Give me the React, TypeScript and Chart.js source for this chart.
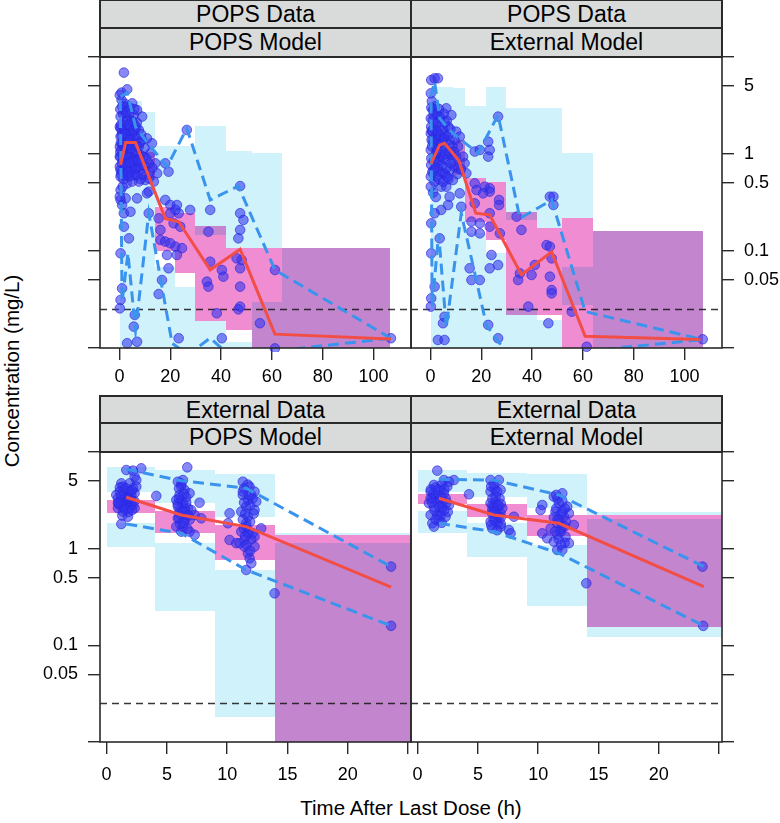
import React, { useEffect, useRef } from 'react';
import { Chart, registerables } from 'chart.js';

Chart.register(...registerables);

const FONT = '"Liberation Sans", Arial, Helvetica, sans-serif';

// ---------- axis ticks ----------
const X_TICKS_TOP = [0, 20, 40, 60, 80, 100];
const X_LABELS_TOP = ['0', '20', '40', '60', '80', '100'];
const X_TICKS_BOTTOM = [0, 5, 10, 15, 20, 25];
const X_LABELS_BOTTOM = ['0', '5', '10', '15', '20', ''];
const Y_TICKS = [0.01, 0.05, 0.1, 0.5, 1, 5, 10];
const Y_LABELS = ['', '0.05', '0.1', '0.5', '1', '5', ''];
const X_LIMITS_TOP = [-7.7, 114.8];
const X_LIMITS_BOTTOM = [-0.55, 25.25];
const Y_LIMITS = [0.01, 10];
const LLOQ = 0.025;

const STRIP_DATA = ['POPS Data', 'POPS Data', 'External Data', 'External Data'];
const STRIP_MODEL = ['POPS Model', 'External Model', 'POPS Model', 'External Model'];
const X_TITLE = 'Time After Last Dose (h)';
const Y_TITLE = 'Concentration (mg/L)';

// ---------- POPS data / POPS model ----------
const TL_POINTS = [
  [1.7, 6.9], [0.8, 4.29], [3.0, 4.64], [0.1, 4.06],
  [5.0, 3.33], [6.9, 2.84], [8.9, 2.43], [3.7, 2.52], [0.4, 2.43], [0.1, 1.91], [2.1, 1.99], [5.6, 2.07], [7.6, 1.77],
  [0.4, 1.51], [3.0, 1.63], [6.3, 1.51], [0.1, 1.19], [3.7, 1.19], [7.6, 1.19], [0.4, 0.939], [4.3, 0.939], [8.2, 0.977],
  [0.1, 0.74], [2.4, 0.74], [5.6, 0.77], [0.4, 0.584], [3.7, 0.584], [7.6, 0.519], [10.2, 0.539], [11.5, 0.561],
  [10.8, 1.45], [12.8, 1.29], [12.2, 1.02], [14.1, 0.801], [11.5, 0.801], [14.8, 0.632], [18.0, 0.801], [19.3, 0.657],
  [11.5, 0.409], [10.8, 0.393], [6.9, 0.349], [0.4, 0.425], [2.4, 0.349], [0.4, 0.336], [1.7, 0.245], [4.3, 0.254],
  [11.5, 0.245], [18.0, 0.336], [20.0, 0.298], [22.6, 0.298], [23.3, 0.245], [22.0, 0.265], [27.8, 0.265], [20.0, 0.245],
  [15.4, 0.217], [16.1, 0.165], [21.3, 0.193], [23.9, 0.178], [1.7, 0.178], [3.7, 0.135], [0.4, 0.0946], [1.0, 0.0412],
  [0.4, 0.0313], [0.1, 0.0256], [6.0, 0.0219], [5.6, 0.0166], [3.0, 0.0112], [6.9, 0.0116], [23.3, 0.0126], [16.1, 0.13],
  [18.0, 0.125], [22.0, 0.111], [20.0, 0.12], [24.6, 0.107], [18.7, 0.091], [22.6, 0.091], [19.3, 0.0663], [16.7, 0.0502],
  [15.4, 0.036], [26.5, 1.77],
  [35.7, 0.265], [35.7, 0.0776], [35.0, 0.158], [34.4, 0.0483], [35.0, 0.0429], [40.3, 0.0637], [40.9, 0.0544], [38.3, 0.0228],
  [47.5, 0.467], [47.5, 0.245], [48.8, 0.209], [47.5, 0.165], [46.8, 0.135], [48.1, 0.0808], [46.1, 0.084], [47.5, 0.0663],
  [47.5, 0.0429], [47.5, 0.0267], [46.8, 0.025], [55.3, 0.018], [61.2, 0.0637], [61.2, 0.0099], [106.9, 0.0126], [40.3, 0.0126],
  [1.7, 2.84], [3.0, 2.33], [4.3, 1.91], [1.0, 1.7], [5.0, 1.39], [2.4, 1.34], [6.3, 1.06], [1.7, 1.06], [3.7, 0.834],
  [6.9, 0.867], [1.0, 0.657], [5.0, 0.657], [3.0, 0.498], [6.3, 0.607], [0.1, 0.939], [7.6, 0.74], [8.9, 1.39], [5.6, 2.52],
  [1.0, 1.29], [3.7, 1.63], [1.0, 0.298], [0.1, 0.363], [2.4, 3.08], [0.4, 1.84], [4.3, 1.24], [2.4, 0.977], [6.3, 0.801],
  [0.4, 0.684], [5.0, 0.519], [8.2, 0.684], [9.5, 0.939], [10.2, 0.74],
  [0.8, 3.6], [2.0, 3.3], [4.0, 3.0], [5.8, 2.9], [1.3, 2.6], [2.8, 2.2], [4.8, 2.2], [6.8, 2.1], [0.6, 2.0], [1.9, 1.75],
  [3.3, 1.45], [4.6, 1.6], [6.0, 1.8], [7.2, 1.45], [0.7, 1.1], [2.0, 1.15], [3.2, 1.0], [4.9, 1.05], [5.8, 0.9], [7.0, 1.0],
  [1.3, 0.85], [2.7, 0.85], [4.4, 0.72], [6.6, 0.72], [1.5, 0.55], [2.8, 0.62], [8.0, 0.9], [8.5, 1.6], [9.8, 1.15], [1.2, 0.46],
  [0.3, 2.9], [1.1, 3.1], [2.6, 2.7], [3.6, 2.0], [5.3, 1.75], [6.6, 1.9], [0.9, 1.55], [2.2, 1.6], [4.0, 1.4], [5.6, 1.25],
  [7.9, 1.3], [0.5, 1.3], [1.5, 1.25], [2.9, 1.2], [4.6, 1.15], [6.8, 1.2], [0.3, 1.05], [1.3, 0.98], [3.5, 0.92], [5.2, 0.84],
  [7.3, 0.85], [0.9, 0.8], [2.2, 0.78], [4.0, 0.8], [6.1, 0.7], [0.6, 0.62], [2.0, 0.6], [3.3, 0.66], [4.8, 0.6], [7.0, 0.6],
  [8.3, 0.55], [9.2, 0.62], [10.5, 0.9], [11.8, 0.65], [12.9, 0.72], [13.5, 0.52],
];
const TL_MEDIAN = [[0.4, 0.77], [2.4, 1.31], [6.3, 1.31], [18.0, 0.217], [23.3, 0.2], [35.7, 0.064], [47.5, 0.104], [61.2, 0.0139], [106.9, 0.0124]];
const TL_P95 = [[0.4, 3.9], [3.0, 4.3], [6.3, 1.91], [10.2, 1.39], [18.7, 0.74], [26.5, 1.84], [35.7, 0.336], [46.8, 0.467], [61.2, 0.0637], [106.9, 0.0126]];
const TL_P05 = [[0.3, 3.6], [1.0, 0.03], [3.3, 0.095], [6.3, 0.0153], [11.5, 0.245], [20.7, 0.0112], [27.0, 0.0085], [35.7, 0.0127], [41.0, 0.0095], [61.2, 0.0093], [106.9, 0.0126]];
// [x start, x end, y low, y high]
const TL_PI_BOXES = [
  [0, 8.9, 0.74, 3.52], [0, 8.9, 0.01, 0.46], [8.9, 14.1, 0.01, 2.69], [14.1, 22, 0.29, 1.22], [14.1, 22, 0.01, 0.068],
  [22, 29.8, 0.25, 1.22], [22, 29.8, 0.01, 0.043], [29.8, 42, 0.145, 1.96], [29.8, 42, 0.01, 0.0192], [42, 52, 0.107, 1.07],
  [42, 52, 0.01, 0.0116], [52, 63.8, 0.107, 1.02], [52, 63.8, 0.01, 0.03], [63.8, 106.7, 0.01, 0.107],
];
const TL_MEDIAN_BOXES = [
  [8.9, 14.1, 0.54, 1.06], [14.1, 22, 0.1, 0.287], [22, 29.8, 0.059, 0.246], [29.8, 42, 0.0192, 0.18], [42, 52, 0.0153, 0.107],
  [52, 63.8, 0.01, 0.107], [63.8, 106.7, 0.01, 0.107],
];

// ---------- POPS data / External model ----------
const TR_POINTS = [
  [0.26, 5.79], [1.6, 6.03], [2.9, 6.03], [0.1, 4.22], [0.9, 2.84], [3.6, 2.33], [6.2, 2.96], [8.2, 2.52], [0.1, 2.33], [0.26, 1.91],
  [10.1, 1.7], [11.5, 1.51], [9.5, 1.39], [10.8, 1.19], [12.8, 0.939], [13.4, 0.801], [10.8, 0.712], [14.1, 0.632], [17.4, 1.06],
  [19.4, 1.1], [22.7, 1.34], [23.3, 1.1], [22.7, 0.939], [26.6, 2.43], [17.4, 0.498], [18.1, 0.425], [21.3, 0.46], [23.3, 0.443],
  [23.3, 0.409], [20.7, 0.393], [27.0, 0.336], [27.0, 0.298], [11.5, 0.393], [6.9, 0.298], [4.2, 0.265], [1.6, 0.245], [0.26, 0.193],
  [7.5, 0.363], [12.1, 0.286], [17.4, 0.31], [16.1, 0.201], [19.4, 0.193], [16.1, 0.158], [19.4, 0.152], [23.3, 0.245], [23.3, 0.178],
  [27.3, 0.152], [24.0, 0.091], [26.6, 0.0717], [23.3, 0.0663], [15.4, 0.0663], [16.1, 0.0502], [19.4, 0.0502], [3.6, 0.135],
  [0.26, 0.0946], [1.6, 0.0429], [0.26, 0.0325], [0.1, 0.0267], [5.5, 0.021], [4.9, 0.018], [2.9, 0.0121], [5.5, 0.0121],
  [22.7, 0.0173], [26.6, 0.0126],
  [33.9, 0.226], [35.8, 0.165], [35.2, 0.0589], [34.5, 0.0502], [39.8, 0.0566], [41.1, 0.0717], [38.5, 0.0267], [47.0, 0.363],
  [48.4, 0.363], [48.4, 0.298], [45.7, 0.115], [47.0, 0.111], [47.7, 0.084], [47.0, 0.0544], [47.7, 0.0396], [47.7, 0.0366],
  [46.4, 0.018], [55.6, 0.0237], [61.5, 0.0103], [107.2, 0.0123],
  [0.1, 1.63], [1.6, 1.91], [2.9, 1.63], [4.9, 1.77], [6.9, 1.57], [0.9, 1.34], [3.6, 1.29], [5.5, 1.15], [7.5, 1.39], [0.1, 1.1],
  [2.2, 1.02], [4.2, 0.939], [6.2, 0.867], [8.2, 0.977], [0.26, 0.77], [2.9, 0.712], [4.9, 0.632], [7.5, 0.684], [0.1, 0.584],
  [1.6, 0.519], [4.2, 0.46], [6.2, 0.46], [0.1, 0.46], [8.8, 0.539], [10.1, 0.939], [9.5, 0.74], [0.9, 2.24], [2.2, 1.19], [4.9, 1.45],
  [0.5, 3.5], [1.8, 3.1], [3.4, 2.9], [5.2, 2.6], [1.2, 2.5], [2.6, 2.1], [4.3, 2.0], [6.4, 2.2], [0.5, 1.75], [1.9, 1.5],
  [3.1, 1.4], [4.5, 1.3], [6.0, 1.6], [7.8, 1.8], [0.6, 1.2], [1.7, 0.95], [3.3, 0.85], [5.0, 0.9], [6.8, 1.05], [8.6, 1.2],
  [1.2, 0.68], [2.5, 0.58], [3.8, 0.65], [5.7, 0.62], [7.0, 0.55], [9.0, 0.85], [1.0, 0.4], [2.1, 0.36],
  [0.3, 3.0], [1.3, 2.9], [2.4, 2.6], [3.9, 2.4], [5.6, 2.1], [7.0, 1.9], [0.8, 1.7], [2.4, 1.75], [3.9, 1.55], [5.4, 1.45],
  [7.2, 1.25], [0.4, 1.4], [1.4, 1.3], [2.7, 1.1], [4.0, 1.05], [5.8, 1.0], [7.8, 1.05], [0.3, 0.9], [1.3, 0.85], [2.6, 0.82],
  [4.4, 0.76], [6.3, 0.72], [8.0, 0.8], [0.7, 0.65], [1.9, 0.72], [3.2, 0.55], [5.0, 0.52], [6.6, 0.58], [9.3, 1.05], [10.5, 0.62],
  [12.0, 0.7],
];
const TR_MEDIAN = [[0.26, 0.8], [3.6, 1.24], [5.5, 1.29], [11.2, 0.85], [17.8, 0.245], [23.3, 0.235], [35.8, 0.057], [47.7, 0.098], [60.9, 0.0132], [106.3, 0.0122]];
const TR_P95 = [[0, 3.9], [1.6, 5.57], [3.6, 2.33], [8.8, 1.63], [18.7, 1.02], [26.6, 2.52], [35.2, 0.217], [47.7, 0.335], [60.9, 0.0238], [107.2, 0.0122]];
const TR_P05 = [[0.2, 3.4], [0.6, 0.027], [3.2, 0.15], [6.2, 0.0165], [12.1, 0.245], [22.0, 0.0172], [28.6, 0.01], [35.0, 0.008], [61.0, 0.0093], [107.2, 0.0122]];
const TR_PI_BOXES = [
  [0, 8.8, 0.01, 4.87], [8.8, 13.4, 0.01, 4.75], [13.4, 21.7, 0.56, 3.12], [13.4, 21.7, 0.01, 0.152], [21.7, 29.6, 0.518, 4.94],
  [21.7, 29.6, 0.01, 0.095], [29.6, 41.8, 0.209, 2.96], [29.6, 41.8, 0.01, 0.0257], [41.8, 51.9, 0.171, 2.96], [41.8, 51.9, 0.01, 0.0194],
  [51.9, 63.9, 0.217, 1.02], [51.9, 63.9, 0.0279, 0.069], [63.9, 107.2, 0.01, 0.16],
];
const TR_MEDIAN_BOXES = [
  [8.8, 13.4, 0.61, 1.39], [13.4, 21.7, 0.2, 0.56], [21.7, 29.6, 0.13, 0.518], [29.6, 41.8, 0.0218, 0.254], [41.8, 51.9, 0.0218, 0.171],
  [51.9, 63.9, 0.01, 0.217], [63.9, 107.2, 0.01, 0.16],
];

// ---------- External data / POPS model ----------
const BL_POINTS = [
  [1.63, 6.51], [2.18, 6.41], [2.87, 6.78], [1.22, 4.74], [2.32, 5.56], [2.46, 5.13], [1.91, 4.74], [2.18, 4.21], [1.08, 3.89],
  [1.77, 3.74], [2.32, 3.74], [0.94, 3.32], [1.49, 3.32], [2.05, 3.19], [1.08, 2.83], [1.63, 2.83], [2.18, 2.83], [0.94, 2.62],
  [1.35, 2.42], [1.91, 2.62], [1.77, 2.14], [1.22, 1.8], [4.12, 3.51], [0.8, 3.59], [1.35, 4.38], [2.46, 4.38], [0.94, 2.95],
  [2.32, 2.62], [1.49, 3.06], [1.22, 3.19], [1.77, 2.95], [2.05, 3.59], [1.63, 3.45],
  [1.4, 4.0], [1.9, 3.9], [1.2, 3.5], [1.6, 3.0], [2.0, 2.9], [1.4, 2.7], [1.8, 2.4], [2.3, 3.1],
  [1.1, 4.3], [1.6, 4.2], [2.1, 4.0], [1.0, 3.0], [1.5, 2.55], [2.1, 2.5], [1.3, 2.2], [1.8, 3.3],
  [6.69, 6.94], [5.91, 4.93], [6.19, 4.38], [6.47, 4.05], [6.05, 3.59], [6.88, 3.74], [5.78, 3.19], [6.33, 2.95], [6.74, 2.62],
  [6.05, 2.51], [7.02, 2.51], [7.71, 2.99], [5.91, 2.06], [6.47, 1.98], [7.3, 2.23], [7.85, 2.06], [5.78, 1.69], [6.33, 1.69],
  [6.88, 1.5], [7.3, 1.39], [6.19, 1.5], [6.05, 2.32], [6.61, 2.23], [6.19, 3.19], [5.91, 2.72], [6.47, 2.42], [6.33, 5.13],
  [6.2, 4.7], [6.6, 3.4], [5.9, 2.9], [6.5, 2.6], [6.9, 2.0], [6.1, 1.8], [6.7, 1.6],
  [6.0, 4.2], [6.4, 3.7], [6.0, 3.3], [6.6, 3.0], [6.3, 2.4], [6.8, 2.2], [6.0, 2.1], [6.4, 1.85],
  [11.3, 4.93], [11.86, 4.38], [12.27, 3.89], [11.3, 3.59], [11.72, 3.19], [12.41, 3.06], [11.58, 2.72], [12.27, 2.51], [11.17, 2.42],
  [10.2, 2.32], [10.06, 1.83], [11.72, 2.14], [11.58, 1.83], [12.82, 1.62], [11.17, 1.5], [11.72, 1.44], [12.27, 1.33], [10.2, 1.23],
  [10.75, 1.14], [11.44, 1.23], [12.27, 1.05], [11.72, 0.896], [11.86, 0.795], [11.58, 0.602], [12.0, 0.706], [11.44, 1.05],
  [11.03, 1.14], [12.0, 3.59], [11.58, 1.69],
  [11.4, 4.2], [12.1, 3.3], [11.9, 2.8], [11.5, 2.3], [11.9, 1.9], [11.4, 1.6], [12.0, 1.25], [11.6, 1.1], [11.9, 0.95],
  [11.7, 4.6], [11.3, 3.9], [11.8, 3.6], [11.4, 3.0], [12.2, 2.3], [11.3, 2.0], [11.8, 1.5], [11.5, 1.35], [12.1, 1.45],
  [13.93, 0.345], [23.6, 0.652], [23.6, 0.159],
];
const BL_MEDIAN = [[1.63, 3.4], [6.19, 2.23], [11.58, 1.69], [23.6, 0.399]];
const BL_P95 = [[1.63, 6.62], [6.19, 5.05], [11.58, 4.21], [23.6, 0.652]];
const BL_P05 = [[1.63, 1.8], [6.19, 1.44], [11.58, 0.602], [23.6, 0.159]];
const BL_PI_BOXES = [
  [0, 4.0, 3.89, 7.05], [0, 4.0, 1.05, 1.86], [4.0, 8.96, 2.95, 6.5], [4.0, 8.96, 0.227, 1.14], [8.96, 14.0, 2.11, 5.92],
  [8.96, 14.0, 0.018, 0.6], [14.0, 25.3, 1.37, 1.46], [14.0, 25.3, 0.01, 1.14],
];
const BL_MEDIAN_BOXES = [[0, 4.0, 2.32, 3.19], [4.0, 8.96, 1.44, 2.47], [8.96, 14.0, 0.764, 1.76], [14.0, 25.3, 0.01, 1.37]];

// ---------- External data / External model ----------
const BR_POINTS = [
  [1.63, 6.41], [1.35, 4.56], [2.18, 5.13], [2.6, 4.93], [3.01, 5.13], [1.08, 3.89], [1.91, 4.05], [2.46, 4.38], [1.22, 3.32],
  [1.77, 3.19], [2.32, 3.32], [1.35, 2.72], [2.05, 2.62], [2.6, 2.83], [1.08, 2.23], [1.63, 2.23], [2.32, 2.14], [1.22, 1.83],
  [1.35, 1.69], [1.91, 2.42], [4.26, 3.65], [0.94, 2.95], [2.18, 3.74], [1.49, 3.59], [1.63, 3.06], [2.05, 2.95], [1.08, 3.32],
  [1.77, 1.98],
  [1.5, 4.3], [2.0, 4.6], [1.3, 3.7], [1.9, 3.5], [2.4, 3.0], [1.4, 2.5], [1.9, 2.2], [2.5, 2.4],
  [1.1, 4.1], [1.7, 4.1], [2.2, 4.1], [1.2, 3.0], [1.8, 2.7], [2.2, 2.5], [1.5, 2.0], [2.0, 1.85],
  [6.05, 5.13], [6.74, 5.13], [6.33, 4.56], [6.88, 4.05], [6.05, 3.89], [6.47, 3.45], [6.05, 2.95], [6.61, 2.62], [7.02, 2.62],
  [6.19, 2.32], [6.74, 2.14], [7.99, 2.14], [6.05, 1.9], [6.61, 1.83], [6.19, 1.62], [6.88, 1.69], [7.57, 1.56], [7.71, 1.44],
  [6.33, 2.72], [6.47, 3.06], [6.19, 2.51], [6.88, 2.32], [6.47, 1.98],
  [6.4, 4.1], [6.8, 3.3], [6.2, 2.8], [6.9, 2.9], [6.5, 2.3], [6.3, 2.0], [6.9, 1.8],
  [6.1, 4.4], [6.6, 3.9], [6.2, 3.3], [6.7, 2.8], [6.3, 2.4], [6.9, 2.1], [6.1, 1.75], [6.6, 1.55],
  [12.0, 3.74], [11.3, 3.45], [11.72, 2.95], [12.41, 2.72], [10.34, 2.83], [10.2, 2.51], [11.44, 2.42], [12.55, 2.32], [12.13, 2.14],
  [12.96, 1.76], [11.58, 1.83], [12.0, 1.69], [11.03, 1.62], [10.75, 1.28], [11.58, 1.39], [12.27, 1.33], [12.55, 1.14],
  [11.58, 0.97], [12.0, 0.97], [10.34, 1.44], [11.3, 1.18], [11.86, 1.5], [11.72, 1.98],
  [11.6, 3.3], [12.2, 2.6], [11.9, 2.3], [11.3, 2.1], [12.3, 1.9], [11.9, 1.6], [11.4, 1.5], [12.2, 1.15],
  [11.5, 3.6], [12.0, 3.1], [11.5, 2.6], [12.0, 2.45], [11.6, 2.0], [12.2, 1.7], [11.7, 1.25], [11.9, 1.1],
  [13.99, 0.438], [23.63, 0.652], [23.69, 0.159],
];
const BR_MEDIAN = [[1.77, 3.32], [6.33, 2.23], [11.72, 1.83], [23.74, 0.405]];
const BR_P95 = [[1.77, 5.22], [6.33, 5.13], [11.72, 3.59], [23.74, 0.652]];
const BR_P05 = [[1.77, 1.83], [6.33, 1.5], [11.72, 0.896], [23.74, 0.159]];
const BR_PI_BOXES = [
  [0, 4.06, 3.89, 6.51], [0, 4.06, 1.46, 2.47], [4.06, 9.04, 3.45, 6.11], [4.06, 9.04, 0.827, 1.83], [9.04, 14.07, 2.62, 5.92],
  [9.04, 14.07, 0.257, 1.09], [14.07, 25.3, 2.23, 2.42], [14.07, 25.3, 0.121, 2.01],
];
const BR_MEDIAN_BOXES = [[0, 4.06, 2.9, 3.68], [4.06, 9.04, 2.11, 2.9], [9.04, 14.07, 1.35, 2.23], [14.07, 25.3, 0.156, 2.23]];

// ---------- styles ----------
const BOX_BLUE = '#d0f2fa';
const BOX_PINK = '#f08dd2';
const PT_FILL = 'rgba(50,50,240,0.58)';
const PT_EDGE = 'rgba(40,40,220,0.65)';
const RED = '#f24e45';
const BLUE_LINE = '#3a94ee';
const LLOQ_COLOR = 'rgba(20,20,20,0.85)';
const FRAME = '#2a2a2a';

type Spec = {
  left: number; top: number; w: number; h: number;
  yPos: 'left' | 'right'; yLabels: boolean;
  xTicks: number[]; xLabels: string[]; xLim: number[]; xPad: number;
  points: number[][]; median: number[][]; p95: number[][]; p05: number[][];
  pi: number[][]; mi: number[][];
};

const PANELS: Spec[] = [
  { left: 100, top: 57, w: 311, h: 291, yPos: 'left', yLabels: false, xTicks: X_TICKS_TOP, xLabels: X_LABELS_TOP, xLim: X_LIMITS_TOP, xPad: 6,
    points: TL_POINTS, median: TL_MEDIAN, p95: TL_P95, p05: TL_P05, pi: TL_PI_BOXES, mi: TL_MEDIAN_BOXES },
  { left: 411, top: 57, w: 311, h: 291, yPos: 'right', yLabels: true, xTicks: X_TICKS_TOP, xLabels: X_LABELS_TOP, xLim: X_LIMITS_TOP, xPad: 6,
    points: TR_POINTS, median: TR_MEDIAN, p95: TR_P95, p05: TR_P05, pi: TR_PI_BOXES, mi: TR_MEDIAN_BOXES },
  { left: 100, top: 452, w: 311, h: 290, yPos: 'left', yLabels: true, xTicks: X_TICKS_BOTTOM, xLabels: X_LABELS_BOTTOM, xLim: X_LIMITS_BOTTOM, xPad: 10,
    points: BL_POINTS, median: BL_MEDIAN, p95: BL_P95, p05: BL_P05, pi: BL_PI_BOXES, mi: BL_MEDIAN_BOXES },
  { left: 411, top: 452, w: 311, h: 290, yPos: 'right', yLabels: false, xTicks: X_TICKS_BOTTOM, xLabels: X_LABELS_BOTTOM, xLim: X_LIMITS_BOTTOM, xPad: 10,
    points: BR_POINTS, median: BR_MEDIAN, p95: BR_P95, p05: BR_P05, pi: BR_PI_BOXES, mi: BR_MEDIAN_BOXES },
];

function vpcPlugin(s: Spec) {
  return {
    id: 'vpcBands',
    beforeDatasetsDraw(chart: any) {
      const { ctx, chartArea: a } = chart;
      const xs = chart.scales.x;
      const ys = chart.scales.y;
      ctx.save();
      ctx.beginPath();
      ctx.rect(a.left, a.top, a.right - a.left, a.bottom - a.top);
      ctx.clip();
      const fill = (b: number[]) => {
        const x0 = Math.round(xs.getPixelForValue(b[0]));
        const x1 = Math.round(xs.getPixelForValue(b[1]));
        const yT = Math.round(ys.getPixelForValue(b[3]));
        const yB = Math.round(ys.getPixelForValue(b[2]));
        ctx.fillRect(x0, yT, x1 - x0, yB - yT);
      };
      ctx.fillStyle = BOX_BLUE;
      s.pi.forEach(fill);
      ctx.globalCompositeOperation = 'multiply';
      ctx.fillStyle = BOX_PINK;
      s.mi.forEach(fill);
      ctx.restore();
    },
    afterDraw(chart: any) {
      const { ctx, chartArea: a } = chart;
      ctx.save();
      ctx.strokeStyle = FRAME;
      ctx.lineWidth = 1.6;
      ctx.strokeRect(a.left, a.top, a.right - a.left, a.bottom - a.top);
      ctx.restore();
    },
  };
}

const TOP_PAD = 25;
const BOT_PAD = 45;
const SIDE_PAD = 10;

function Panel({ s }: { s: Spec }) {
  const ref = useRef<HTMLCanvasElement>(null);
  const axisW = s.yPos === 'left' ? 70 : 58;
  const cw = s.w + axisW + SIDE_PAD;
  const ch = s.h + TOP_PAD + BOT_PAD;
  const cl = s.yPos === 'left' ? s.left - axisW : s.left - SIDE_PAD;

  useEffect(() => {
    const toXY = (arr: number[][]) => arr.map((p) => ({ x: p[0], y: p[1] }));
    const gridOpts = {
      drawOnChartArea: false, drawTicks: true, tickLength: 12,
      color: FRAME, tickColor: FRAME, tickWidth: 1.4, lineWidth: 1.4,
    };
    const chart = new Chart(ref.current as HTMLCanvasElement, {
      type: 'scatter',
      data: {
        datasets: [
          { data: toXY(s.median), showLine: true, borderColor: RED, borderWidth: 3, pointRadius: 0, order: 0, clip: 0 } as any,
          { data: toXY(s.p95), showLine: true, borderColor: BLUE_LINE, borderWidth: 3, borderDash: [11, 6], pointRadius: 0, order: 1, clip: 0 },
          { data: toXY(s.p05), showLine: true, borderColor: BLUE_LINE, borderWidth: 3, borderDash: [11, 6], pointRadius: 0, order: 2, clip: 0 },
          { data: toXY(s.points), pointRadius: 4.8, pointBackgroundColor: PT_FILL, pointBorderColor: PT_EDGE, pointBorderWidth: 1, order: 3, clip: 4 },
          { data: [{ x: s.xLim[0], y: LLOQ }, { x: s.xLim[1], y: LLOQ }], showLine: true, borderColor: LLOQ_COLOR, borderWidth: 1.5, borderDash: [7, 5], pointRadius: 0, order: 4, clip: 0 },
        ],
      },
      options: {
        responsive: false,
        animation: false,
        devicePixelRatio: 1,
        events: [],
        layout: {
          padding: s.yPos === 'left'
            ? { left: 0, right: SIDE_PAD, top: TOP_PAD, bottom: 0 }
            : { left: SIDE_PAD, right: 0, top: TOP_PAD, bottom: 0 },
        },
        plugins: { legend: { display: false }, tooltip: { enabled: false } },
        scales: {
          x: {
            type: 'linear', position: 'bottom', min: s.xLim[0], max: s.xLim[1], bounds: 'data',
            border: { display: false },
            grid: gridOpts,
            ticks: {
              autoSkip: false, maxRotation: 0, minRotation: 0, padding: s.xPad, color: '#000',
              font: { family: FONT, size: 18 },
              callback: (v: any) => { const i = s.xTicks.indexOf(Number(v)); return i >= 0 ? s.xLabels[i] : ''; },
            },
            afterBuildTicks: (sc: any) => { sc.ticks = s.xTicks.map((v) => ({ value: v })); },
            afterFit: (sc: any) => { sc.height = BOT_PAD; },
          },
          y: {
            type: 'logarithmic', position: s.yPos, min: Y_LIMITS[0], max: Y_LIMITS[1], bounds: 'data',
            border: { display: false },
            grid: gridOpts,
            ticks: {
              display: s.yLabels, autoSkip: false, padding: 10, color: '#000',
              font: { family: FONT, size: 18 },
              callback: (v: any) => { const i = Y_TICKS.indexOf(Number(v)); return i >= 0 ? Y_LABELS[i] : ''; },
            },
            afterBuildTicks: (sc: any) => { sc.ticks = Y_TICKS.map((v) => ({ value: v })); },
            afterFit: (sc: any) => { sc.width = axisW; },
          },
        },
      } as any,
      plugins: [vpcPlugin(s)],
    });
    return () => chart.destroy();
  }, []);

  return (
    <canvas
      ref={ref}
      width={cw}
      height={ch}
      style={{ position: 'absolute', left: cl, top: s.top - TOP_PAD, width: cw, height: ch }}
    />
  );
}

function Strip({ left, top, w, h, text }: { left: number; top: number; w: number; h: number; text: string }) {
  return (
    <div
      style={{
        position: 'absolute', left: left - 1, top: top - 1, width: w + 2, height: h + 2,
        boxSizing: 'border-box', border: `2px solid ${FRAME}`, background: '#d9dbdb',
        display: 'flex', alignItems: 'center', justifyContent: 'center',
        fontFamily: FONT, fontSize: 23, color: '#000', lineHeight: 1, whiteSpace: 'nowrap',
      }}
    >
      {text}
    </div>
  );
}

export default function App() {
  return (
    <div style={{ position: 'absolute', left: 0, top: 0, width: 780, height: 823, overflow: 'hidden', background: '#fff' }}>
      {PANELS.map((p, i) => (
        <React.Fragment key={i}>
          <Strip left={p.left} top={p.top - 57 + (i < 2 ? 0 : 1)} w={p.w} h={28} text={STRIP_DATA[i]} />
          <Strip left={p.left} top={p.top - 29} w={p.w} h={29} text={STRIP_MODEL[i]} />
        </React.Fragment>
      ))}
      {PANELS.map((p, i) => (
        <Panel key={'c' + i} s={p} />
      ))}
      <div
        style={{
          position: 'absolute', left: 411, top: 808, transform: 'translate(-50%, -50%)',
          fontFamily: FONT, fontSize: 20.5, color: '#000', whiteSpace: 'nowrap',
        }}
      >
        {X_TITLE}
      </div>
      <div
        style={{
          position: 'absolute', left: 12, top: 371, transform: 'translate(-50%, -50%) rotate(-90deg)',
          fontFamily: FONT, fontSize: 20.5, color: '#000', whiteSpace: 'nowrap',
        }}
      >
        {Y_TITLE}
      </div>
    </div>
  );
}
